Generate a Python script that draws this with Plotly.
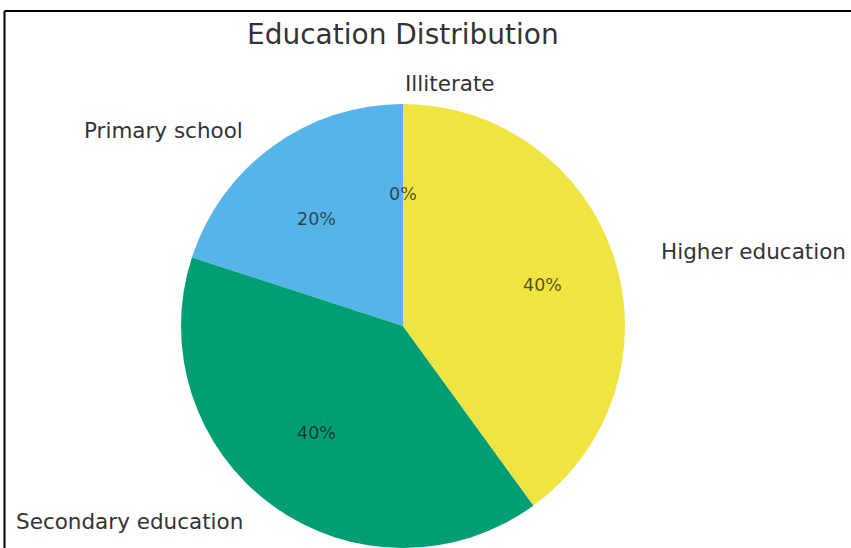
import math
import plotly.graph_objects as go

# ---- data ----
categories = ["Illiterate", "Primary school", "Secondary education", "Higher education"]
values = [0, 20, 40, 40]
colors = ["#E69F00", "#56B4E9", "#009E73", "#F0E442"]
title_text = "Education Distribution"

# ---- layout constants (pixels) ----
W, H = 851, 548
cx, cy = 403, 326      # pie centre
r = 222                # pie radius
rx, ry = 245, 220      # text placement radii (reference geometry)

def px(x):
    return x / W

def py(y):
    return 1 - y / H

fig = go.Figure()
fig.add_trace(go.Pie(
    labels=categories,
    values=values,
    marker=dict(colors=colors, line=dict(width=0)),
    sort=False,
    direction="counterclockwise",
    rotation=0,
    textinfo="none",
    hoverinfo="label+percent",
    showlegend=False,
    domain=dict(x=[px(cx - r), px(cx + r)], y=[max(0, py(cy + r)), py(cy - r)]),
))

annotations = []
total = sum(values)
start = 90.0
for cat, v in zip(categories, values):
    span = 360.0 * v / total
    mid = math.radians(start + span / 2)
    start += span
    c, s = math.cos(mid), math.sin(mid)
    annotations.append(dict(
        x=px(cx + 0.6 * rx * c), y=py(cy - 0.6 * ry * s),
        xref="paper", yref="paper", showarrow=False,
        text=f"{round(100 * v / total)}%",
        font=dict(family="DejaVu Sans", size=17.5, color="rgba(20,20,20,0.72)"),
        xanchor="center", yanchor="middle",
    ))
    annotations.append(dict(
        x=px(cx + 1.1 * rx * c), y=py(cy - 1.1 * ry * s),
        xref="paper", yref="paper", showarrow=False,
        text=cat,
        font=dict(family="DejaVu Sans", size=21.5, color="#333333"),
        xanchor="left" if c > -1e-9 else "right", yanchor="middle",
    ))

annotations.append(dict(
    x=px(403), y=py(35), xref="paper", yref="paper", showarrow=False,
    text=title_text, font=dict(family="DejaVu Sans", size=28, color="#333333"),
    xanchor="center", yanchor="middle",
))

fig.update_layout(
    width=W, height=H,
    margin=dict(l=0, r=0, t=0, b=0),
    paper_bgcolor="white", plot_bgcolor="white",
    annotations=annotations,
    shapes=[
        dict(type="line", xref="paper", yref="paper",
             x0=px(4.5), x1=1, y0=py(11), y1=py(11), line=dict(color="black", width=2)),
        dict(type="line", xref="paper", yref="paper",
             x0=px(4.5), x1=px(4.5), y0=py(11), y1=0, line=dict(color="black", width=2)),
    ],
)

fig.write_html("out.html", config={"displayModeBar": False},
               post_script="document.body.style.margin='0px';")
